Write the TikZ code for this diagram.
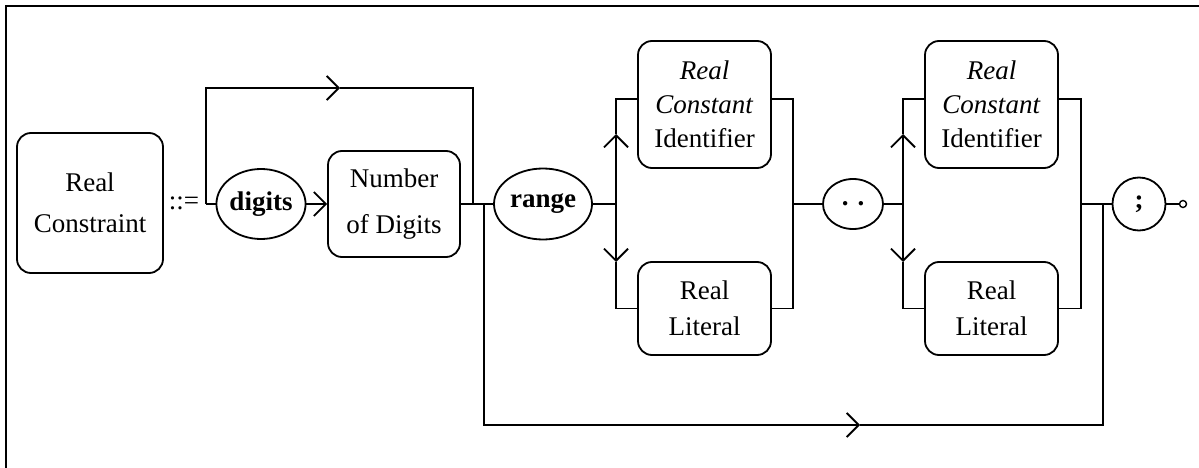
\documentclass[tikz,border=0pt]{standalone}
\usepackage{fontspec}
\setmainfont{Liberation Serif}
\usetikzlibrary{arrows.meta,shapes.geometric}
\begin{document}
\begin{tikzpicture}[x=1pt,y=-1pt,
  line width=1.8pt,
  every node/.style={font=\fontsize{27}{34}\selectfont},
  rbox/.style={draw, rounded corners=14pt, align=center, inner sep=0pt},
  term/.style={draw, ellipse, inner sep=0pt, font=\fontsize{27}{34}\selectfont\bfseries},
  arr/.style={-{Straight Barb[length=12pt,width=24pt]}},
]
\useasboundingbox (0,0) rectangle (1199,468);
\draw[line width=1.6pt] (6,468) -- (6,6) -- (1199,6);

% nodes
\node[rbox, minimum width=146pt, minimum height=140pt, font=\fontsize{27}{41}\selectfont] (rc) at (90,203) {Real\\Constraint};
\node (def) at (184,203) {::=};
\node[term, minimum width=88pt, minimum height=70pt] (dig) at (261,204) {digits};
\node[rbox, minimum width=132pt, minimum height=106pt, font=\fontsize{27}{46}\selectfont] (nod) at (394,204) {Number\\of Digits};
\node[term, minimum width=98pt, minimum height=71pt] (rng) at (543,204) {range};
\node[rbox, minimum width=133pt, minimum height=127pt] (ci1) at (704.5,104.5) {\textit{Real}\\\textit{Constant}\\Identifier};
\node[rbox, minimum width=133pt, minimum height=93pt, font=\fontsize{27}{36}\selectfont] (rl1) at (704.5,308.5) {Real\\Literal};
\node[term, minimum width=60pt, minimum height=50pt] (dots) at (853,204) {. .};
\node[rbox, minimum width=133pt, minimum height=127pt] (ci2) at (991.5,104.5) {\textit{Real}\\\textit{Constant}\\Identifier};
\node[rbox, minimum width=133pt, minimum height=93pt, font=\fontsize{27}{36}\selectfont] (rl2) at (991.5,308.5) {Real\\Literal};
\node[draw, circle, minimum size=53pt, inner sep=0pt, font=\fontsize{27}{34}\selectfont\bfseries] (semi) at (1139,204) {;};
\node[draw, circle, minimum size=7pt, inner sep=0pt, line width=1.4pt] (end) at (1183,204) {};

% coordinates
\coordinate (jL) at (206,204);
\coordinate (tA) at (340,88);
\coordinate (j1) at (473,204);
\coordinate (j2) at (484,204);
\coordinate (tB) at (860,425);
\coordinate (j5) at (1103,204);
\coordinate (b1) at (616,204);
\coordinate (b1u) at (616,99);
\coordinate (au1) at (616,134);
\coordinate (ad1) at (616,262);
\coordinate (r1) at (793,204);
\coordinate (b2) at (903,204);
\coordinate (b2u) at (903,99);
\coordinate (au2) at (903,134);
\coordinate (ad2) at (903,262);
\coordinate (r2) at (1081,204);

% connectors
\draw (jL) -- (dig.west);
\draw[arr] (dig.east) -- (nod.west);
\draw[arr] (jL) |- (tA);
\draw (tA) -| (j1);
\draw (nod.east) -- (j1) -- (rng.west);
\draw[arr] (j2) |- (tB);
\draw (tB) -| (j5);

\draw (rng.east) -- (b1);
\draw[arr] (b1) -- (au1);
\draw (au1) -- (b1u) -- (ci1.west |- b1u);
\draw[arr] (b1) -- (ad1);
\draw (ad1) |- (rl1.west);
\draw (ci1.east |- b1u) -| (r1);
\draw (rl1.east) -| (r1);
\draw (r1) -- (dots.west);

\draw (dots.east) -- (b2);
\draw[arr] (b2) -- (au2);
\draw (au2) -- (b2u) -- (ci2.west |- b2u);
\draw[arr] (b2) -- (ad2);
\draw (ad2) |- (rl2.west);
\draw (ci2.east |- b2u) -| (r2);
\draw (rl2.east) -| (r2);
\draw (r2) -- (semi.west);
\draw (semi.east) -- (end.west);
\end{tikzpicture}
\end{document}
